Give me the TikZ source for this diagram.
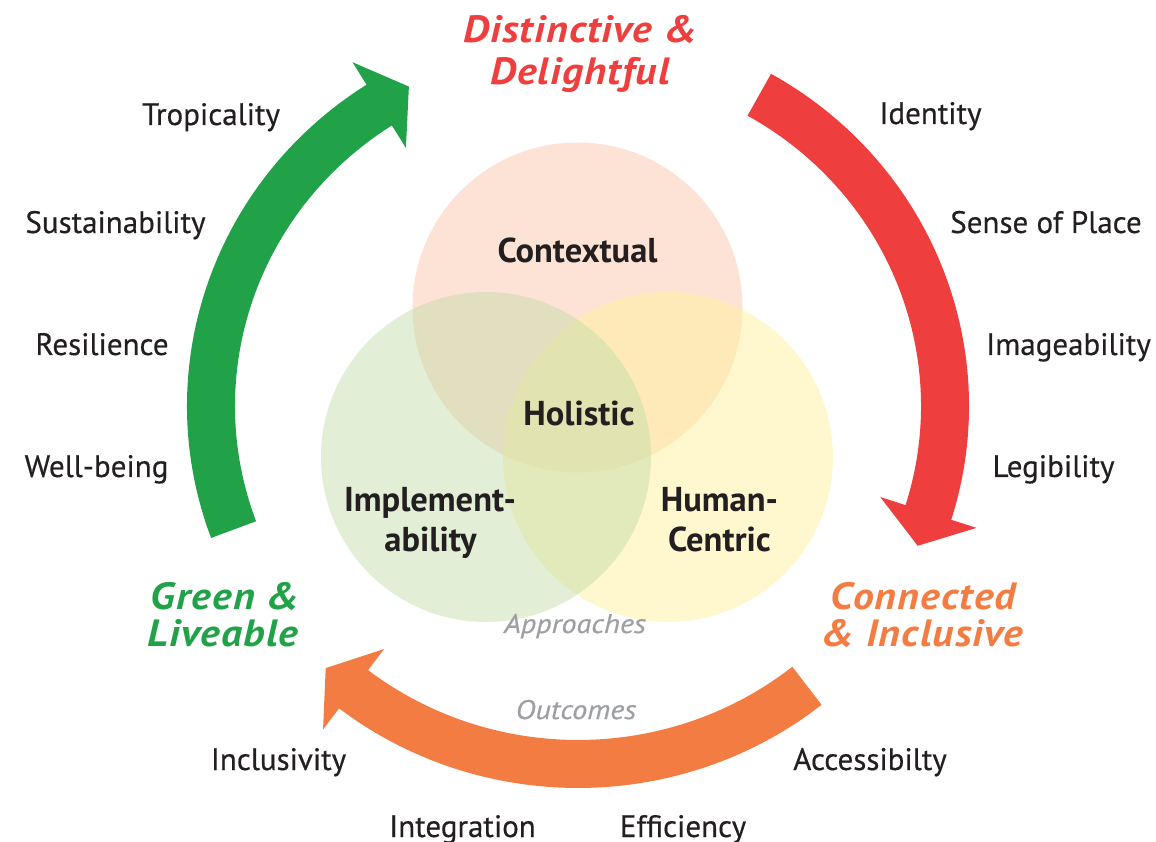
\documentclass[tikz,border=0pt]{standalone}
\usepackage{fontspec}
\setmainfont{PT Sans}
\newfontfamily\labelfont{PT Sans}[FakeBold=0.4]
\newfontfamily\titlefont{PT Sans}[FakeStretch=1.1, LetterSpace=3]
\newfontfamily\notefont{PT Sans}[FakeStretch=1.12, FakeBold=0.5]
\usetikzlibrary{calc}

\definecolor{grn}{RGB}{33,162,72}
\definecolor{rd}{RGB}{238,62,61}
\definecolor{org}{RGB}{243,124,67}
\definecolor{ink}{RGB}{35,31,32}
\definecolor{muted}{RGB}{157,159,162}
\definecolor{peach}{RGB}{251,199,171}
\definecolor{lemon}{RGB}{255,241,157}
\definecolor{sage}{RGB}{197,221,171}

\tikzset{
  word/.style={text=ink, anchor=base, inner sep=0pt, font=\labelfont\fontsize{31}{37}\selectfont},
  core/.style={text=ink, anchor=base, inner sep=0pt, font=\fontsize{34.5}{40}\selectfont\bfseries},
  title/.style={anchor=base, inner sep=0pt, font=\titlefont\fontsize{38}{44}\selectfont\bfseries\itshape},
  note/.style={text=muted, anchor=base, inner sep=0pt, font=\notefont\fontsize{27}{32}\selectfont\itshape},
  petal/.style={fill opacity=0.5},
  band/.style={line width=48pt},
}

% ellipse carrying the three outcome arrows
\def\rx{367}
\def\ry{358}

\begin{document}
\begin{tikzpicture}[x=1pt,y=1pt]
\useasboundingbox (0,0) rectangle (1156,841);

% ---- approaches: three overlapping circles
\fill[petal, peach] (577.5,533.5) circle[radius=165];
\fill[petal, lemon] (668,384) circle[radius=165];
\fill[petal, sage]  (486,384) circle[radius=165];

\node[core] (ctx) at (577.5,578) {Contextual};
\node[core] (hol) at (579,415) {Holistic};
\node[core] (imp1) at (430,329) {Implement-};
\node[core] (imp2) at (430.5,289) {ability};
\node[core] (hum1) at (719.5,329) {Human-};
\node[core] (hum2) at (719.5,289) {Centric};

\node[note] (appr) at (575,208) {Approaches};
\node[note] (outc) at (576,122) {Outcomes};

% ---- outcome arrows around the circles
\coordinate (C) at (578,435);

% green: Green & Liveable -> Distinctive & Delightful
\coordinate (gB) at ($(C)+(122.8:\rx\space and \ry)$);
\coordinate (gD) at ($(C)+(122.3:\rx\space and \ry)$);
\draw[band, grn] ($(C)+(200.2:\rx\space and \ry)$)
  arc[start angle=200.2, end angle=121.8, x radius=\rx, y radius=\ry];
\fill[grn] ($(gB)!50.5pt!90:(gD)$) -- ($(gB)!35pt!(gD)$) -- ($(gB)!50.5pt!-90:(gD)$) -- cycle;

% red: Distinctive & Delightful -> Connected & Inclusive
\coordinate (rB) at ($(C)+(-17.3:\rx\space and \ry)$);
\coordinate (rD) at ($(C)+(-17.8:\rx\space and \ry)$);
\draw[band, rd] ($(C)+(60.4:\rx\space and \ry)$)
  arc[start angle=60.4, end angle=-18.3, x radius=\rx, y radius=\ry];
\fill[rd] ($(rB)!50.5pt!90:(rD)$) -- ($(rB)!35pt!(rD)$) -- ($(rB)!50.5pt!-90:(rD)$) -- cycle;

% orange: Connected & Inclusive -> Green & Liveable
\coordinate (oB) at ($(C)+(-127.7:\rx\space and \ry)$);
\coordinate (oD) at ($(C)+(-128.2:\rx\space and \ry)$);
\draw[band, org] ($(C)+(-51.4:\rx\space and \ry)$)
  arc[start angle=-51.4, end angle=-128.7, x radius=\rx, y radius=\ry];
\fill[org] ($(oB)!50.5pt!90:(oD)$) -- ($(oB)!35pt!(oD)$) -- ($(oB)!50.5pt!-90:(oD)$) -- cycle;

% ---- outcome titles
\node[title, text=rd] (dd1) at (580,798) {Distinctive \&};
\node[title, text=rd] (dd2) at (580,756) {Delightful};
\node[title, text=grn] (gl1) at (225,231) {Green \&};
\node[title, text=grn] (gl2) at (223,194) {Liveable};
\node[title, text=org] (ci1) at (923.5,231) {Connected};
\node[title, text=org] (ci2) at (922.5,195) {\& Inclusive};

% ---- qualities listed along each arrow
\node[word] (w1) at (211,716) {Tropicality};
\node[word] (w2) at (115.5,608) {Sustainability};
\node[word] (w3) at (102,486) {Resilience};
\node[word] (w4) at (96.5,364) {Well-being};

\node[word] (e1) at (930.5,717) {Identity};
\node[word] (e2) at (1046,608) {Sense of Place};
\node[word] (e3) at (1068.5,486) {Imageability};
\node[word] (e4) at (1053.5,364) {Legibility};

\node[word] (s1) at (278.5,71) {Inclusivity};
\node[word] (s2) at (870,71) {Accessibilty};
\node[word] (s3) at (462.5,4) {Integration};
\node[word] (s4) at (683,4) {Efficiency};
\end{tikzpicture}
\end{document}
